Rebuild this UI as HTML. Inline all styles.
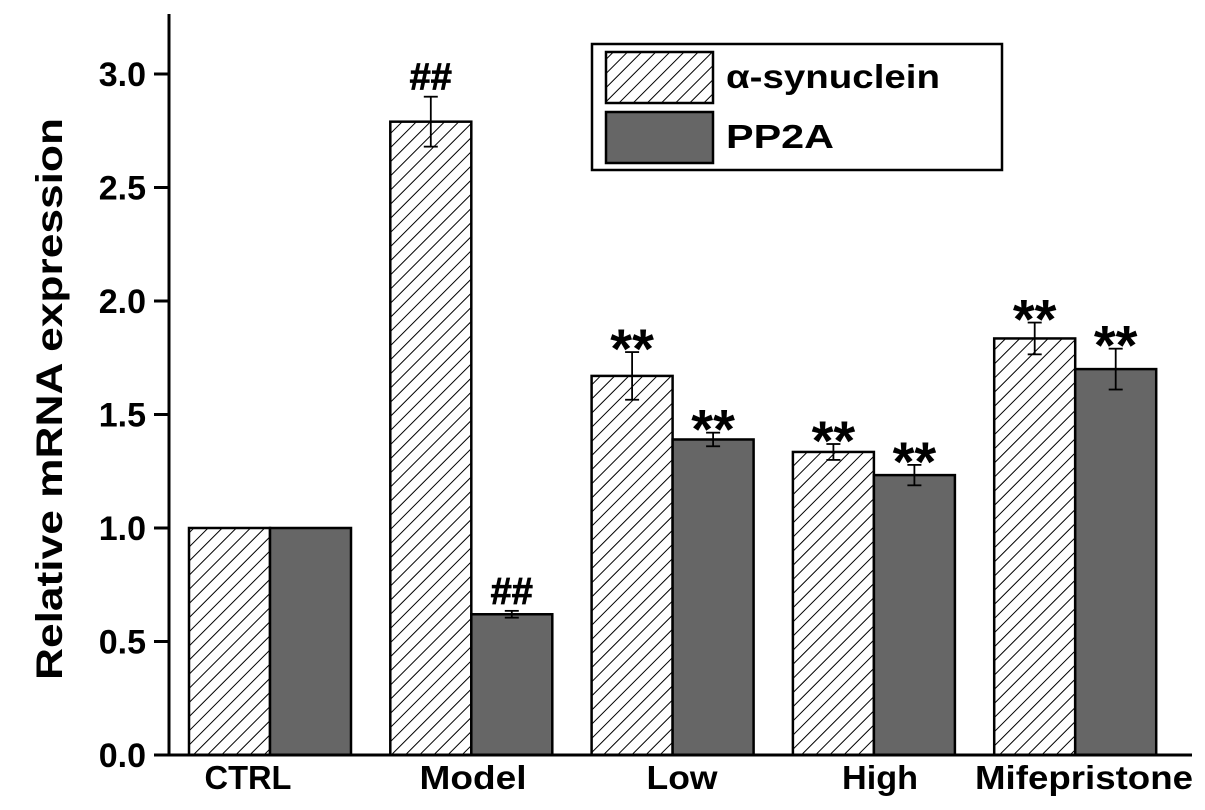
<!DOCTYPE html>
<html><head><meta charset="utf-8"><style>
body{margin:0;background:#fff}
svg{display:block}
text{font-family:"Liberation Sans",sans-serif;font-weight:bold;fill:#000}
</style></head><body>
<svg id="chart" width="1205" height="810" viewBox="0 0 1205 810">
<defs>
<pattern id="hatch" patternUnits="userSpaceOnUse" width="10" height="10" patternTransform="rotate(45)">
<rect width="10" height="10" fill="#fff"/>
<line x1="0" y1="0" x2="0" y2="10" stroke="#000" stroke-width="2"/>
</pattern>
</defs>
<g id="bars"></g>
<g id="axes"></g>
<g>
<rect x="592" y="44" width="410" height="126" fill="#fff" stroke="#000" stroke-width="2.5"/>
<rect x="606" y="52" width="107" height="51" fill="url(#hatch)" stroke="#000" stroke-width="2.5"/>
<text x="726" y="88" font-size="33" textLength="214" lengthAdjust="spacingAndGlyphs">α-synuclein</text>
<rect x="606" y="112" width="107" height="51" fill="#666" stroke="#000" stroke-width="2.5"/>
<text x="726" y="148" font-size="33" textLength="108" lengthAdjust="spacingAndGlyphs">PP2A</text>
</g>
<text transform="translate(62,399) rotate(-90)" text-anchor="middle" font-size="37" textLength="562" lengthAdjust="spacingAndGlyphs">Relative mRNA expression</text>
</svg>
<script>
const categories=["CTRL","Model","Low","High","Mifepristone"];
const synValues=[1.0,2.79,1.67,1.335,1.835];
const synErrors=[0,0.11,0.105,0.035,0.07];
const ppValues=[1.0,0.62,1.39,1.233,1.70];
const ppErrors=[0,0.015,0.03,0.045,0.09];
const synMarks=["","##","**","**","**"];
const ppMarks=["","##","**","**","**"];
const yTicks=["0.0","0.5","1.0","1.5","2.0","2.5","3.0"];

const NS="http://www.w3.org/2000/svg";
const y0=755, pxPerUnit=227;
const yScale=v=>y0-v*pxPerUnit;
const groupStart=i=>189+i*201.3;
const barW=81;
const labelX=[248,473,682,880,1084];
const labelW=[87,107,71,76,218];
function mk(tag,attrs,parent){const e=document.createElementNS(NS,tag);for(const k in attrs)e.setAttribute(k,attrs[k]);parent.appendChild(e);return e;}
const bars=document.getElementById('bars'), axes=document.getElementById('axes');

function drawBar(i,v,err,mark,offset,fill,name){
  const x=groupStart(i)+offset, y=yScale(v);
  const r=mk('rect',{x:x,y:y,width:barW,height:y0-y,fill:fill,stroke:'#000','stroke-width':2.5},bars);
  
  
  const cx=x+barW/2;
  let top=y;
  if(err>0){
    const g=mk('g',{stroke:'#000','stroke-width':1.8},bars);
    
    
    mk('line',{x1:cx,x2:cx,y1:yScale(v+err),y2:yScale(v-err)},g);
    mk('line',{x1:cx-7,x2:cx+7,y1:yScale(v+err),y2:yScale(v+err)},g);
    mk('line',{x1:cx-7,x2:cx+7,y1:yScale(v-err),y2:yScale(v-err)},g);
    top=yScale(v+err);
  }
  if(mark){
    const isHash=mark==="##";
    const t=mk('text',{x:cx,y:isHash?top-7:top+16,'text-anchor':'middle','font-size':isHash?38:56,stroke:isHash?'#000':'none','stroke-width':isHash?0.8:0},bars);
    t.textContent=mark;
    
    
  }
}
categories.forEach((c,i)=>{
  drawBar(i,synValues[i],synErrors[i],synMarks[i],0,'url(#hatch)','synuclein');
  drawBar(i,ppValues[i],ppErrors[i],ppMarks[i],barW,'#666','pp2a');
  const t=mk('text',{x:labelX[i],y:789,'text-anchor':'middle','font-size':33,textLength:labelW[i],lengthAdjust:'spacingAndGlyphs'},axes);
  t.textContent=c;
  
  
});
const ya=mk('line',{x1:169,x2:169,y1:14,y2:y0+1,stroke:'#000','stroke-width':3},axes);


const xa=mk('line',{x1:154,x2:1192,y1:y0,y2:y0,stroke:'#000','stroke-width':3},axes);


yTicks.forEach(s=>{
  const y=yScale(parseFloat(s));
  const l=mk('line',{x1:154,x2:169,y1:y,y2:y,stroke:'#000','stroke-width':3},axes);
  
  
  const t=mk('text',{x:146,y:y+12,'text-anchor':'end','font-size':34},axes);
  t.textContent=s;
  
  
});
</script>
</body></html>
